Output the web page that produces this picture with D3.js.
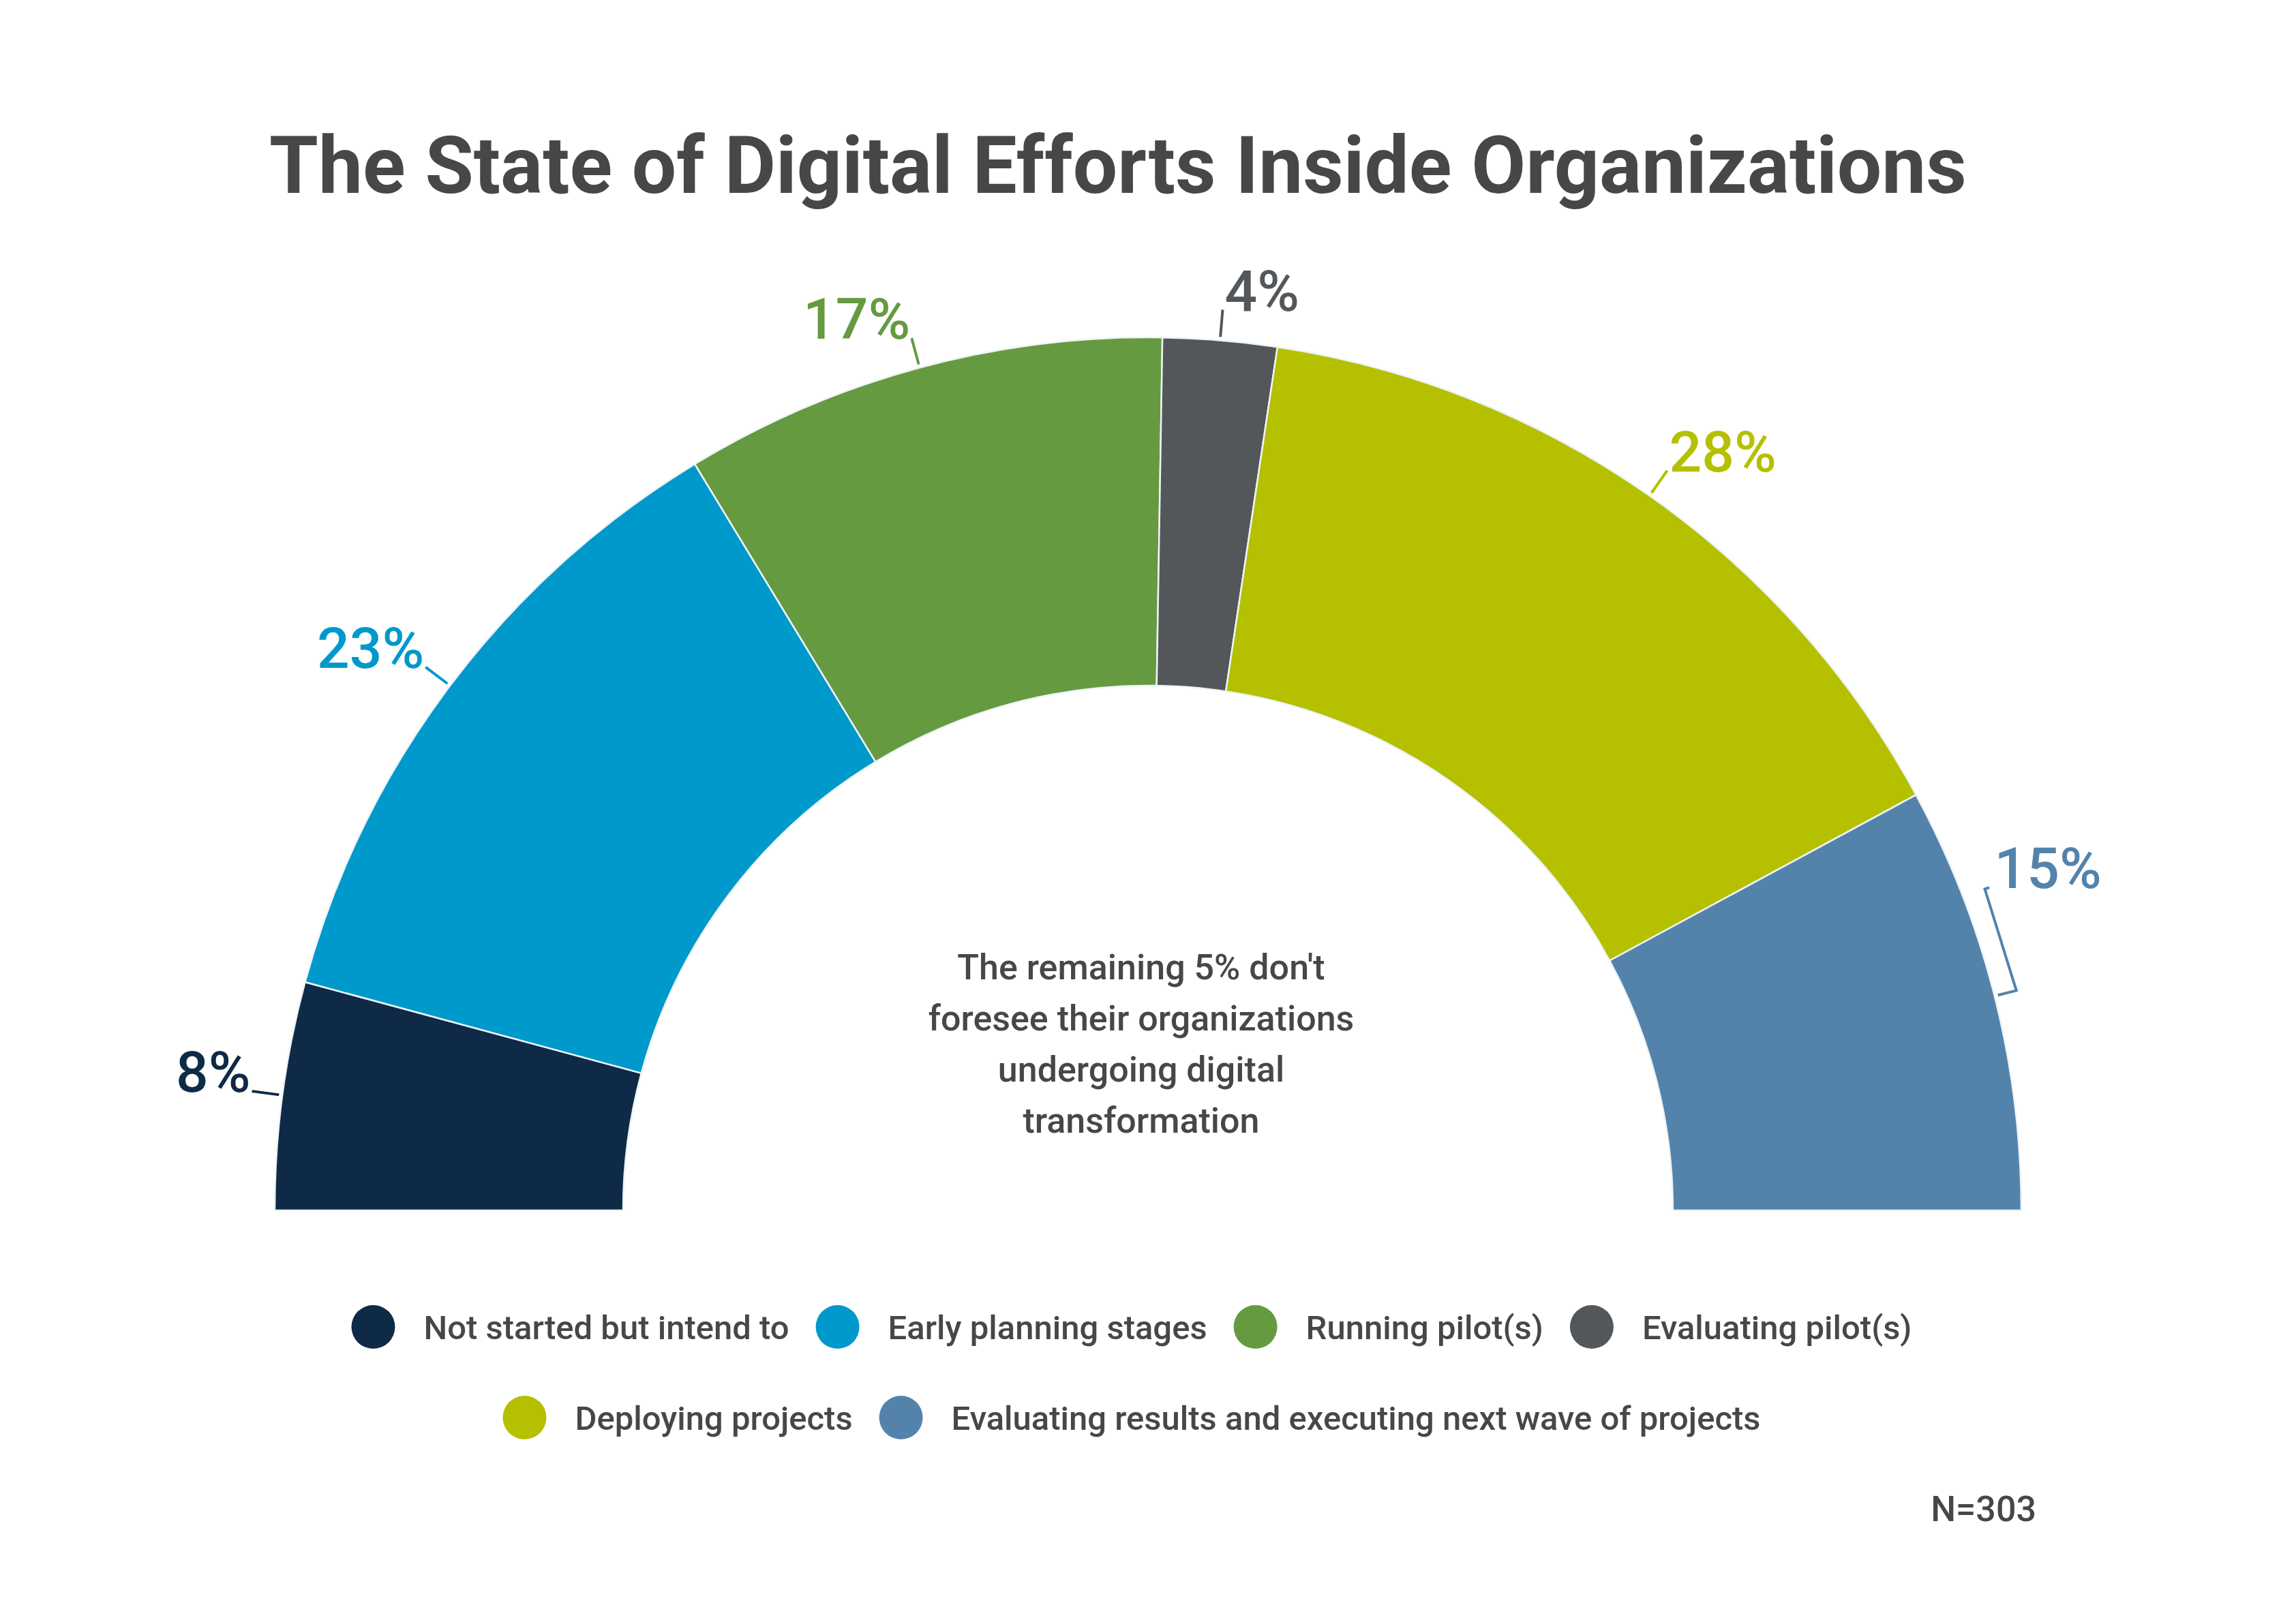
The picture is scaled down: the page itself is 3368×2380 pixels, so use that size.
<!DOCTYPE html>
<html>
<head>
<meta charset="utf-8">
<script src="https://cdn.jsdelivr.net/npm/d3@7"></script>
<style>
  body { margin: 0; background: #fff; }
  text { font-family: Roboto, "Noto Sans", sans-serif; }
</style>
</head>
<body>
<div id="chart"></div>
<script>
// data
const categories = ['Not started but intend to', 'Early planning stages', 'Running pilot(s)',
                    'Evaluating pilot(s)', 'Deploying projects',
                    'Evaluating results and executing next wave of projects'];
const values = [8, 23, 17, 4, 28, 15];
const colors = ['#0f2a47', '#0099cc', '#659a41', '#53575a', '#b5c000', '#5383ab'];
const noteLines = ['The remaining 5% don\'t', 'foresee their organizations', 'undergoing digital', 'transformation'];
const legendRows = [[0, 1, 2, 3], [4, 5]];

const width = 3368, height = 2380;
const cx = 1684, cy = 1776;
const innerR = 770, outerR = 1281;

const svg = d3.select('#chart')
    .append('svg')
    .attr('width', width)
    .attr('height', height);

svg.append('rect').attr('width', width).attr('height', height).attr('fill', '#fff');

svg.append('text')
    .attr('x', 1640)
    .attr('y', 283)
    .attr('text-anchor', 'middle')
    .attr('font-size', 116)
    .attr('font-weight', 700)
    .attr('fill', '#474747')
    .text('The State of Digital Efforts Inside Organizations');

const g = svg.append('g').attr('transform', `translate(${cx},${cy})`);

// half donut: the shown 95% fills the half circle
const pie = d3.pie().sort(null).startAngle(-Math.PI / 2).endAngle(Math.PI / 2);
const arcs = pie(values);

const arc = d3.arc().innerRadius(innerR).outerRadius(outerR);

g.selectAll('path.slice')
    .data(arcs)
    .join('path')
    .attr('class', 'slice')
    .attr('d', arc)
    .attr('fill', (d, i) => colors[i])
    .attr('stroke', '#eef3f6')
    .attr('stroke-width', 2.5);

// leader lines + labels
const pt = (a, r) => [Math.sin(a) * r, -Math.cos(a) * r];
const r1 = 1286, r2 = 1326;

arcs.forEach((d, i) => {
    const mid = (d.startAngle + d.endAngle) / 2;
    const col = colors[i];
    if (i === arcs.length - 1) {
        // bracket style leader for the last slice
        const a2 = mid - 6.8 * Math.PI / 180;
        const pts = [pt(mid, r1), pt(mid, 1314), pt(a2, 1315), pt(a2, 1322)];
        g.append('path')
            .attr('d', d3.line()(pts))
            .attr('fill', 'none')
            .attr('stroke', col)
            .attr('stroke-width', 4);
        const p = pt(a2, 1315);
        g.append('text')
            .attr('x', p[0] + 14)
            .attr('y', p[1] - 2)
            .attr('font-size', 84)
            .attr('font-weight', 500)
            .attr('fill', col)
            .text(values[i] + '%');
        return;
    }
    const p1 = pt(mid, r1), p2 = pt(mid, r2);
    g.append('line')
        .attr('x1', p1[0]).attr('y1', p1[1])
        .attr('x2', p2[0]).attr('y2', p2[1])
        .attr('stroke', col)
        .attr('stroke-width', 4);
    const left = mid < 0;
    g.append('text')
        .attr('x', p2[0] + (left ? -2 : 3))
        .attr('y', p2[1] + 1)
        .attr('text-anchor', left ? 'end' : 'start')
        .attr('font-size', 84)
        .attr('font-weight', 500)
        .attr('fill', col)
        .text(values[i] + '%');
});

// note in the middle
svg.append('text')
    .attr('x', 1674)
    .attr('y', 1437)
    .attr('text-anchor', 'middle')
    .attr('font-size', 52)
    .attr('font-weight', 500)
    .attr('fill', '#474747')
    .selectAll('tspan')
    .data(noteLines)
    .join('tspan')
    .attr('x', 1674)
    .attr('dy', (d, i) => i === 0 ? 0 : 75)
    .text(d => d);

// legend
const legendY = [1947, 2080];
const legendCenter = 1660;
legendRows.forEach((row, ri) => {
    const lg = svg.append('g');
    let x = 0;
    row.forEach((k, j) => {
        lg.append('circle')
            .attr('cx', x + 32)
            .attr('cy', legendY[ri])
            .attr('r', 32)
            .attr('fill', colors[k]);
        const t = lg.append('text')
            .attr('x', x + 32 + 74)
            .attr('y', legendY[ri] + 18)
            .attr('font-size', 49)
            .attr('font-weight', 500)
            .attr('fill', '#474747')
            .text(categories[k]);
        const w = t.node().getComputedTextLength();
        x = x + 32 + 74 + w + 39;
    });
    const total = x - 39;
    lg.attr('transform', `translate(${legendCenter - total / 2},0)`);
});

svg.append('text')
    .attr('x', 2987)
    .attr('y', 2232)
    .attr('text-anchor', 'end')
    .attr('font-size', 52)
    .attr('font-weight', 500)
    .attr('fill', '#474747')
    .text('N=303');
</script>
</body>
</html>
